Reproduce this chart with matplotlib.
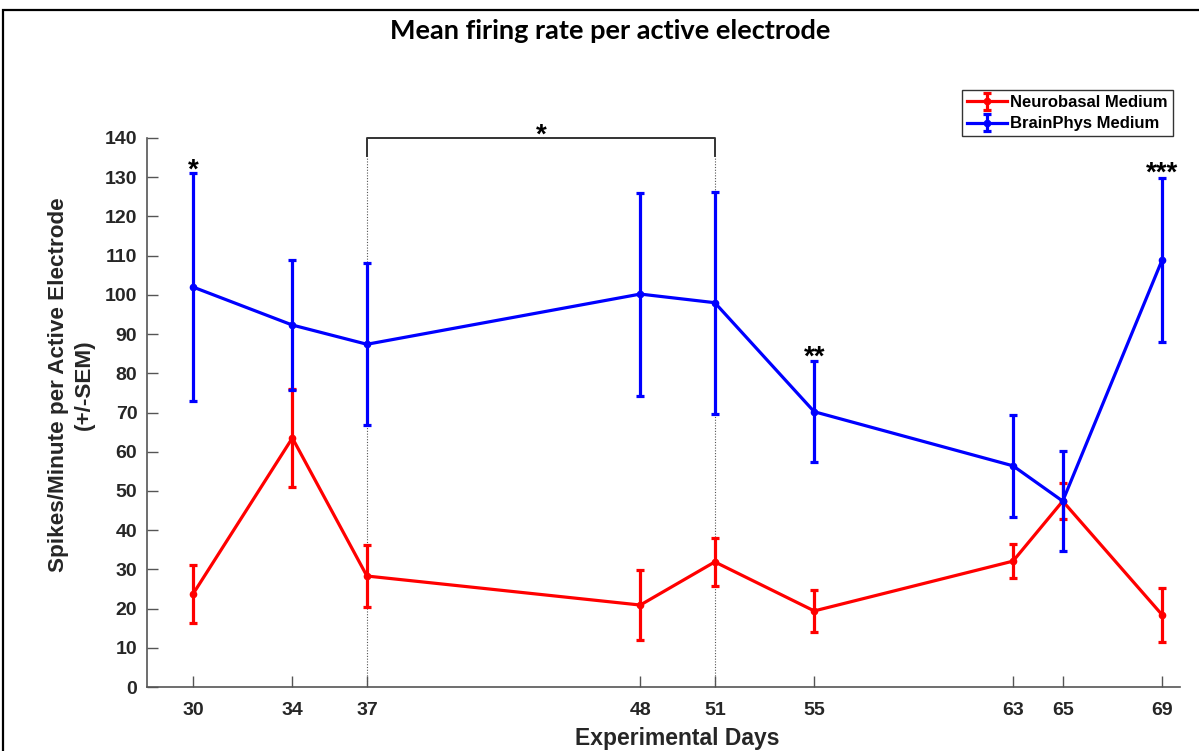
import matplotlib
matplotlib.use("Agg")
import matplotlib.pyplot as plt
from matplotlib.patches import Rectangle

# ---- data ----
days = [30, 34, 37, 48, 51, 55, 63, 65, 69]
day_labels = ["30", "34", "37", "48", "51", "55", "63", "65", "69"]

neuro_mean = [23.7, 63.5, 28.3, 20.9, 31.9, 19.4, 32.1, 47.4, 18.4]
neuro_sem = [7.3, 12.6, 8.0, 9.0, 6.2, 5.4, 4.4, 4.6, 6.8]

brain_mean = [102.0, 92.3, 87.4, 100.2, 98.0, 70.2, 56.4, 47.4, 108.9]
brain_sem = [29.0, 16.5, 20.6, 25.9, 28.3, 12.9, 13.0, 12.7, 20.8]

yticks = [0, 10, 20, 30, 40, 50, 60, 70, 80, 90, 100, 110, 120, 130, 140]

# significance marks: (day, baseline y, text)
sig_days = [30, 55, 69]
sig_y = [129.9, 82.1, 129.1]
sig_text = ["*", "**", "***"]
bracket_days = [37, 51]
bracket_top = 140
bracket_leg = 135.4
bracket_text = "*"
bracket_text_y = 138.8

plt.rcParams['font.family'] = ['Liberation Sans', 'DejaVu Sans']
plt.rcParams['font.weight'] = 'bold'

fig = plt.figure(figsize=(11.99, 7.51), dpi=100)
W, H = 1199, 751
ax = fig.add_axes([147 / W, 1 - 687 / H, (1180 - 147) / W, (687 - 138) / H])

# figure border (left/top visible)
fig.patches.append(Rectangle((3 / W, -0.01), 1.2, 1 - 10 / H + 0.01, transform=fig.transFigure,
                             fill=False, edgecolor='black', linewidth=1.6, zorder=10))

red = '#ff0000'
blue = '#0000ff'
ebkw = dict(linewidth=2.3, elinewidth=2.3, capsize=3.2, capthick=2.3,
            marker='o', markersize=4.5)

ax.errorbar(days, neuro_mean, yerr=neuro_sem, color=red, label='Neurobasal Medium', zorder=3, **ebkw)
ax.errorbar(days, brain_mean, yerr=brain_sem, color=blue, label='BrainPhys Medium', zorder=4, **ebkw)

# bracket + dotted guides
b0, b1 = bracket_days
for d in bracket_days:
    ax.plot([d, d], [0, bracket_leg], color='#555555', linestyle=(0, (1, 1.5)), linewidth=0.8, zorder=1)
ax.plot([b0, b0, b1, b1], [bracket_leg, bracket_top, bracket_top, bracket_leg],
        color='#333333', linewidth=1.4, zorder=2, clip_on=False)
ax.text((b0 + b1) / 2, bracket_text_y, bracket_text, ha='center', va='baseline',
        fontsize=20, fontweight='bold', color='black', clip_on=False)

for d, y, t in zip(sig_days, sig_y, sig_text):
    ax.text(d, y, t, ha='center', va='baseline', fontsize=20, fontweight='bold', color='black')

ax.set_xlim(28.15, 69.72)
ax.set_ylim(0, 140)
ax.set_xticks(days)
ax.set_xticklabels(day_labels)
ax.set_yticks(yticks)
ax.set_yticklabels([str(v) for v in yticks])

for s in ['top', 'right']:
    ax.spines[s].set_visible(False)
for s in ['left', 'bottom']:
    ax.spines[s].set_color('#555555')
    ax.spines[s].set_linewidth(1.2)

ax.tick_params(axis='both', direction='in', length=8, width=1, color='#555555',
               labelsize=14, labelcolor='#262626')
ax.tick_params(axis='x', pad=11)
ax.tick_params(axis='y', pad=7)
for lab in ax.get_xticklabels() + ax.get_yticklabels():
    lab.set_fontweight('bold')

ax.set_xlabel('Experimental Days', fontsize=16.5, fontweight='bold', color='#262626')
ax.set_ylabel('Spikes/Minute per Active Electrode\n(+/-SEM)', fontsize=16.2, fontweight='bold',
              color='#262626', linespacing=1.3)
# label placement in figure pixels (reference positions)
ax.xaxis.set_label_coords(677 / W, 1 - 738 / H, transform=fig.transFigure)
ax.xaxis.label.set_va('center')
ax.yaxis.set_label_coords(71 / W, 1 - 385 / H, transform=fig.transFigure)
ax.yaxis.label.set_va('center')

fig.text(610 / W, 1 - 31 / H, 'Mean firing rate per active electrode', ha='center', va='center',
         fontsize=19.5, fontweight='bold', family=['Lato', 'DejaVu Sans'], color='black')

leg = ax.legend(loc='upper right', bbox_to_anchor=(1173 / W, 1 - 90 / H), bbox_transform=fig.transFigure,
                frameon=True, fancybox=False, edgecolor='black',
                prop={'weight': 'bold', 'size': 12}, borderpad=0.3, labelspacing=0.38,
                handlelength=2.4, handletextpad=0.2, borderaxespad=0)
leg.get_frame().set_linewidth(1.0)

fig.savefig('out.png', dpi=100)
